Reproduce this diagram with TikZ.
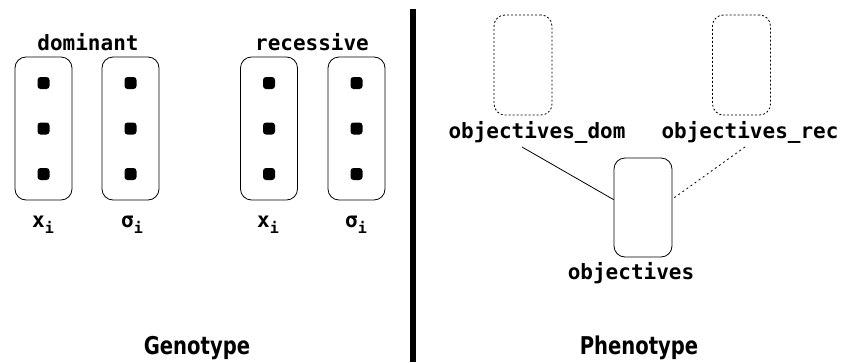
\documentclass[tikz,border=0pt]{standalone}
\usepackage{fontspec}
\usepackage{graphicx}
\setmainfont{DejaVu Sans}
\newfontfamily\lblfont{DejaVu Sans Mono}
\tikzset{
  gbox/.style={draw, line width=0.8pt, rounded corners=11pt, minimum width=57pt, minimum height=143pt, inner sep=0pt},
  pbox/.style={draw, line width=0.8pt, rounded corners=11pt, minimum width=58pt, minimum height=100pt, inner sep=0pt},
  dotted box/.style={pbox, densely dashed, dash pattern=on 2pt off 2pt},
  gdot/.style={fill, rounded corners=3pt, minimum size=12pt, inner sep=0pt},
  lbl/.style={font=\lblfont\bfseries\fontsize{21}{24}\selectfont, inner sep=0pt},
  title/.style={font=\bfseries\fontsize{24.5}{28}\selectfont, inner sep=0pt, anchor=base},
}
\newcommand{\subi}[1]{#1\raisebox{-6pt}{\fontsize{15}{18}\selectfont i}}
\begin{document}
\begin{tikzpicture}[x=1pt,y=-1pt]
\useasboundingbox (0,0) rectangle (849,362);
% genotype boxes
\node[gbox] (b1) at (43.5,128.5) {};
\node[gbox] (b2) at (130.5,128.5) {};
\node[gbox] (b3) at (269,128.5) {};
\node[gbox] (b4) at (356.5,128.5) {};
\foreach \b in {b1,b2,b3,b4}{
  \node[gdot] (\b d1) at ([yshift=45.5pt]\b.center) {};
  \node[gdot] (\b d2) at (\b.center) {};
  \node[gdot] (\b d3) at ([yshift=-45.5pt]\b.center) {};
}
\node[lbl] (dom) at (88,42) {dominant};
\node[lbl] (rec) at (312,42) {recessive};
\node[lbl, anchor=base] (x1) at (43,227) {\subi{x}};
\node[lbl, anchor=base] (s1) at (132,227) {\subi{σ}};
\node[lbl, anchor=base] (x2) at (268,227) {\subi{x}};
\node[lbl, anchor=base] (s2) at (356,227) {\subi{σ}};
% divider
\coordinate (bartop) at (413,9);
\coordinate (barbot) at (413,362);
\draw[line width=6pt] (bartop) -- (barbot);
% phenotype
\node[dotted box] (pdom) at (523,65) {};
\node[dotted box] (prec) at (741.5,65) {};
\node[pbox, minimum height=99pt] (obj) at (643,207.5) {};
\node[lbl] (ldom) at (537,132) {objectives\_dom};
\node[lbl] (lrec) at (750,132) {objectives\_rec};
\node[lbl] (lobj) at (631,273) {objectives};
\coordinate (cdom) at (522,147);
\coordinate (crec) at (745,147);
\draw[line width=0.8pt] (cdom) -- (obj.165);
\draw[line width=0.8pt, dash pattern=on 2pt off 3pt] (crec) -- (obj.16);
% titles
\node[title] (geno) at (197,354) {\scalebox{0.8}[1]{Genotype}};
\node[title] (pheno) at (639,354) {\scalebox{0.8}[1]{Phenotype}};
\end{tikzpicture}
\end{document}
